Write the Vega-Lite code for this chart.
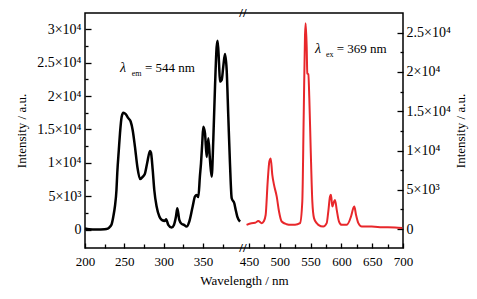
{
  "$schema": "https://vega.github.io/schema/vega-lite/v6.json",
  "width": 318,
  "height": 235,
  "autosize": {"type": "none"},
  "padding": {"left": 85, "top": 13, "right": 74, "bottom": 51},
  "background": "white",
  "config": {
    "view": {"stroke": "black", "strokeWidth": 1.5},
    "font": "Liberation Serif",
    "axis": {
      "labelFont": "Liberation Serif", "labelFontSize": 13, "labelColor": "black",
      "titleFont": "Liberation Serif", "titleFontSize": 13, "titleFontWeight": "normal", "titleColor": "black",
      "tickColor": "black", "tickWidth": 1.3, "domain": false, "grid": false,
      "labelFlush": false, "labelOverlap": false
    }
  },
  "datasets": {
    "ex": [
      {"nm": 200, "I": 200}, {"nm": 205, "I": 100}, {"nm": 210, "I": 80}, {"nm": 215, "I": 80}, {"nm": 220, "I": 80},
      {"nm": 225, "I": 100}, {"nm": 229, "I": 200}, {"nm": 232, "I": 500}, {"nm": 234, "I": 900}, {"nm": 236, "I": 2000},
      {"nm": 238, "I": 3500}, {"nm": 240, "I": 6000}, {"nm": 241, "I": 8500}, {"nm": 243, "I": 12000}, {"nm": 244.5, "I": 14500},
      {"nm": 246.6, "I": 16900}, {"nm": 248.7, "I": 17500}, {"nm": 251.7, "I": 17300}, {"nm": 255, "I": 16700}, {"nm": 258, "I": 16200},
      {"nm": 260.6, "I": 14900}, {"nm": 263.5, "I": 12400}, {"nm": 266.5, "I": 9450}, {"nm": 270, "I": 7600}, {"nm": 273, "I": 7900},
      {"nm": 276, "I": 8350}, {"nm": 279, "I": 10000}, {"nm": 282.6, "I": 11800}, {"nm": 283.9, "I": 11500}, {"nm": 286, "I": 9000},
      {"nm": 288, "I": 6000}, {"nm": 291, "I": 3500}, {"nm": 294.5, "I": 2000}, {"nm": 297.4, "I": 1500}, {"nm": 301.6, "I": 1350},
      {"nm": 303, "I": 1600}, {"nm": 305.8, "I": 750}, {"nm": 310, "I": 350}, {"nm": 313, "I": 750}, {"nm": 315.6, "I": 2000},
      {"nm": 317.3, "I": 3250}, {"nm": 319.8, "I": 1500}, {"nm": 322.8, "I": 900}, {"nm": 325.8, "I": 750}, {"nm": 329, "I": 500},
      {"nm": 332.5, "I": 1250}, {"nm": 336.8, "I": 3500}, {"nm": 339.8, "I": 5000}, {"nm": 341.9, "I": 5200}, {"nm": 344, "I": 4900},
      {"nm": 346, "I": 8000}, {"nm": 347.4, "I": 9950}, {"nm": 349, "I": 13000}, {"nm": 350.3, "I": 15400}, {"nm": 352.5, "I": 14400},
      {"nm": 354.6, "I": 10900}, {"nm": 356.7, "I": 13700}, {"nm": 358.8, "I": 10450}, {"nm": 361, "I": 7950}, {"nm": 363, "I": 13400},
      {"nm": 365.2, "I": 21400}, {"nm": 367.3, "I": 27360}, {"nm": 368.6, "I": 28250}, {"nm": 370.3, "I": 24900}, {"nm": 371.5, "I": 22140},
      {"nm": 373.7, "I": 22400}, {"nm": 375.7, "I": 24400}, {"nm": 377.9, "I": 26270}, {"nm": 380, "I": 23900}, {"nm": 382.1, "I": 16900},
      {"nm": 384.2, "I": 9950}, {"nm": 386.4, "I": 4730}, {"nm": 389.7, "I": 3980}, {"nm": 391.5, "I": 2990}, {"nm": 393.5, "I": 2000},
      {"nm": 397, "I": 1240}
    ],
    "em": [
      {"nm": 446, "I": 550}, {"nm": 454, "I": 760}, {"nm": 460, "I": 800}, {"nm": 465, "I": 1050}, {"nm": 470.6, "I": 760},
      {"nm": 474, "I": 1000}, {"nm": 477, "I": 1800}, {"nm": 480.3, "I": 6050}, {"nm": 483, "I": 8600}, {"nm": 485.2, "I": 9000},
      {"nm": 487.8, "I": 6900}, {"nm": 490.6, "I": 5630}, {"nm": 495, "I": 4140}, {"nm": 498.7, "I": 2240}, {"nm": 503, "I": 970},
      {"nm": 511, "I": 630}, {"nm": 518, "I": 550}, {"nm": 524.7, "I": 550}, {"nm": 532.8, "I": 760}, {"nm": 536.5, "I": 3500},
      {"nm": 538.8, "I": 14500}, {"nm": 540.9, "I": 24700}, {"nm": 542, "I": 26200}, {"nm": 543.7, "I": 23000}, {"nm": 544.6, "I": 19800},
      {"nm": 546.3, "I": 19700}, {"nm": 547.9, "I": 16650}, {"nm": 550.1, "I": 10300}, {"nm": 552.8, "I": 3500}, {"nm": 555.5, "I": 1400},
      {"nm": 559.9, "I": 760}, {"nm": 562.5, "I": 550}, {"nm": 570.6, "I": 330}, {"nm": 576.1, "I": 760}, {"nm": 578.7, "I": 2240},
      {"nm": 581.5, "I": 4140}, {"nm": 583.1, "I": 4360}, {"nm": 585.2, "I": 2870}, {"nm": 588, "I": 3500}, {"nm": 589.6, "I": 3720},
      {"nm": 592.4, "I": 2450}, {"nm": 596.1, "I": 970}, {"nm": 600.5, "I": 550}, {"nm": 608.6, "I": 550}, {"nm": 615.6, "I": 1600},
      {"nm": 619.3, "I": 2670}, {"nm": 621, "I": 2870}, {"nm": 623.7, "I": 1820}, {"nm": 627.5, "I": 760}, {"nm": 633, "I": 330},
      {"nm": 649.2, "I": 330}, {"nm": 665.4, "I": 250}, {"nm": 687, "I": 200}, {"nm": 698.9, "I": 130}
    ]
  },
  "layer": [
    {
      "layer": [
        {
          "data": {"name": "ex"},
          "mark": {"type": "line", "color": "black", "strokeWidth": 2.5, "interpolate": "monotone"},
          "encoding": {
            "x": {
              "field": "nm", "type": "quantitative",
              "scale": {"domain": [200, 400, 441.2, 700], "range": [0, 157.4, 158.6, 318], "nice": false, "zero": false},
              "axis": {
                "orient": "bottom",
                "values": [200, 225, 250, 275, 300, 325, 350, 375, 450, 475, 500, 525, 550, 575, 600, 625, 650, 675, 700],
                "tickCount": 100,
                "labelExpr": "datum.value % 50 === 0 ? datum.label : ''",
                "labelOverlap": false,
                "tickSize": {"condition": {"test": "datum.value % 50 === 0", "value": -5}, "value": -4},
                "labelPadding": 12,
                "title": "Wavelength / nm",
                "titlePadding": 5
              }
            },
            "y": {
              "field": "I", "type": "quantitative",
              "scale": {"domain": [-2700, 32400], "nice": false, "zero": false},
              "axis": {
                "orient": "left",
                "values": [0, 2500, 5000, 7500, 10000, 12500, 15000, 17500, 20000, 22500, 25000, 27500, 30000],
                "tickCount": 100,
                "labelExpr": "datum.value === 0 ? '0' : datum.value === 5000 ? '5×10³' : datum.value % 5000 === 0 ? (datum.value / 10000) + '×10⁴' : ''",
                "labelOverlap": false,
                "labelFontSize": 14,
                "tickSize": {"condition": {"test": "datum.value % 5000 === 0", "value": -6}, "value": -3},
                "labelPadding": 10,
                "title": "Intensity / a.u.",
                "titlePadding": 8
              }
            }
          }
        },
        {
          "data": {"values": [{}]},
          "mark": {"type": "text", "text": "λ", "fontStyle": "italic", "fontSize": 14, "align": "left", "baseline": "alphabetic", "font": "Liberation Serif"},
          "encoding": {"x": {"datum": 244.5, "type": "quantitative"}, "y": {"datum": 23540, "type": "quantitative"}}
        },
        {
          "data": {"values": [{}]},
          "mark": {"type": "text", "text": "em", "fontSize": 8, "align": "left", "baseline": "alphabetic", "dy": 4, "font": "Liberation Serif"},
          "encoding": {"x": {"datum": 259.3, "type": "quantitative"}, "y": {"datum": 23540, "type": "quantitative"}}
        },
        {
          "data": {"values": [{}]},
          "mark": {"type": "text", "text": "= 544 nm", "fontSize": 13, "align": "left", "baseline": "alphabetic", "font": "Liberation Serif"},
          "encoding": {"x": {"datum": 276.2, "type": "quantitative"}, "y": {"datum": 23540, "type": "quantitative"}}
        },
        {
          "data": {"values": [{}]},
          "mark": {"type": "text", "text": "//", "fontSize": 13, "align": "center", "baseline": "middle", "font": "Liberation Serif", "fontWeight": "bold"},
          "encoding": {"x": {"datum": 420, "type": "quantitative"}, "y": {"datum": 32400, "type": "quantitative"}}
        },
        {
          "data": {"values": [{}]},
          "mark": {"type": "text", "text": "//", "fontSize": 13, "align": "center", "baseline": "middle", "font": "Liberation Serif", "fontWeight": "bold"},
          "encoding": {"x": {"datum": 420, "type": "quantitative"}, "y": {"datum": -2700, "type": "quantitative"}}
        }
      ]
    },
    {
      "layer": [
        {
          "data": {"name": "em"},
          "mark": {"type": "line", "color": "#e8272b", "strokeWidth": 2, "interpolate": "monotone"},
          "encoding": {
            "x": {"field": "nm", "type": "quantitative"},
            "y": {
              "field": "I", "type": "quantitative",
              "scale": {"domain": [-2400, 27500], "nice": false, "zero": false},
              "axis": {
                "orient": "right",
                "values": [0, 2500, 5000, 7500, 10000, 12500, 15000, 17500, 20000, 22500, 25000],
                "tickCount": 100,
                "labelExpr": "datum.value === 0 ? '0' : datum.value === 5000 ? '5×10³' : datum.value % 5000 === 0 ? (datum.value / 10000) + '×10⁴' : ''",
                "labelOverlap": false,
                "labelFontSize": 14,
                "tickSize": {"condition": {"test": "datum.value % 5000 === 0", "value": -6}, "value": -3},
                "labelPadding": 9,
                "title": "Intensity / a.u.",
                "titleAngle": 270,
                "titleBaseline": "top",
                "titlePadding": 4
              }
            }
          }
        },
        {
          "data": {"values": [{}]},
          "mark": {"type": "text", "text": "λ", "fontStyle": "italic", "fontSize": 14, "align": "left", "baseline": "alphabetic", "font": "Liberation Serif"},
          "encoding": {"x": {"datum": 557.1, "type": "quantitative"}, "y": {"datum": 22360, "type": "quantitative"}}
        },
        {
          "data": {"values": [{}]},
          "mark": {"type": "text", "text": "ex", "fontSize": 8, "align": "left", "baseline": "alphabetic", "dy": 4, "font": "Liberation Serif"},
          "encoding": {"x": {"datum": 575, "type": "quantitative"}, "y": {"datum": 22360, "type": "quantitative"}}
        },
        {
          "data": {"values": [{}]},
          "mark": {"type": "text", "text": "= 369 nm", "fontSize": 13, "align": "left", "baseline": "alphabetic", "font": "Liberation Serif"},
          "encoding": {"x": {"datum": 592.4, "type": "quantitative"}, "y": {"datum": 22360, "type": "quantitative"}}
        }
      ]
    }
  ],
  "resolve": {"scale": {"y": "independent"}}
}
